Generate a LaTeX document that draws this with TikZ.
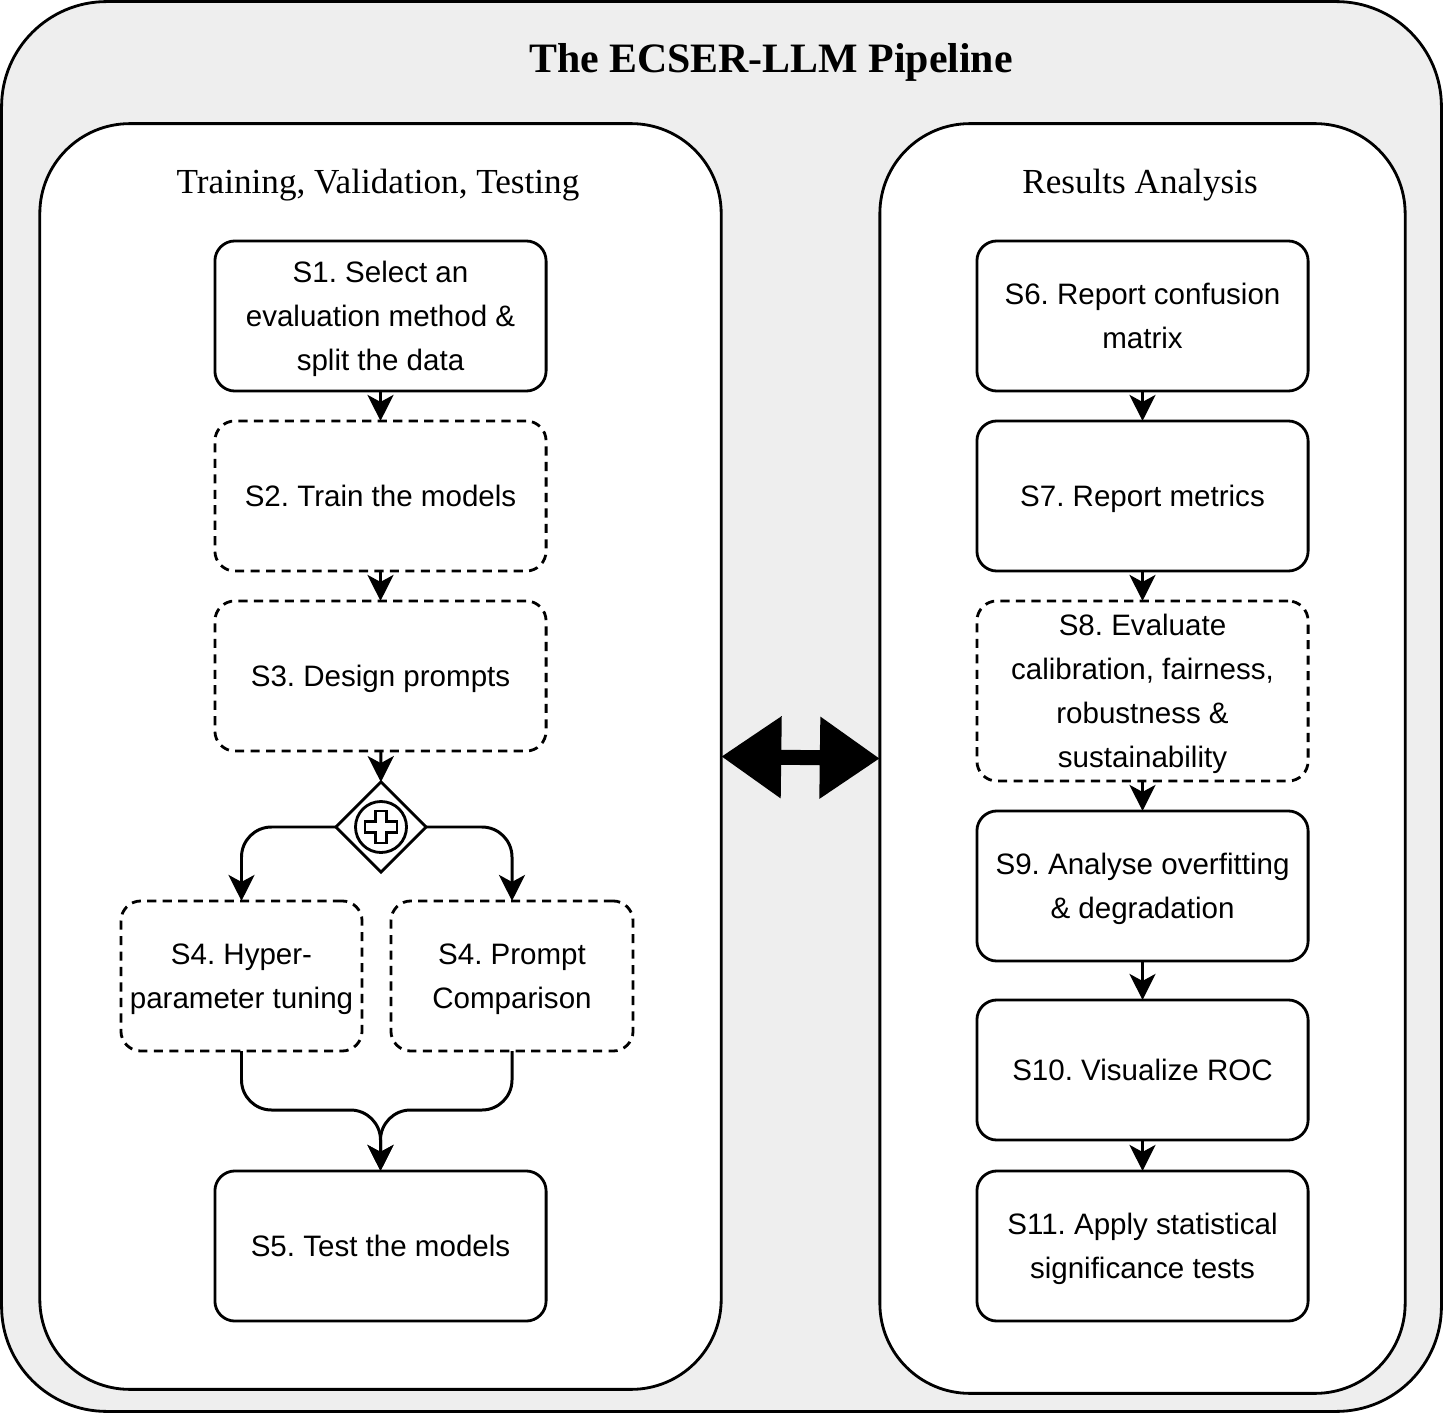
\documentclass[tikz,border=0pt]{standalone}
\usepackage{fontspec}
\setmainfont{Liberation Serif}
\newfontfamily\arialfont{Liberation Sans}
\usetikzlibrary{arrows.meta,shapes.geometric}
\frenchspacing

\definecolor{framegray}{HTML}{EEEEEE}
\newcommand{\boxstrut}{\rule[-2.4pt]{0pt}{11pt}}

\begin{document}
\begin{tikzpicture}[x=0.01cm,y=-0.01cm,
    every node/.style={inner sep=0pt, outer sep=0pt},
    panel/.style={draw, line width=0.8pt, fill=white, rounded corners=0.9cm},
    stepbox/.style={draw, line width=0.8pt, rounded corners=0.2cm, fill=white,
        minimum width=3.31cm, minimum height=1.5cm, align=center,
        font=\arialfont\fontsize{8.4}{12.5}\selectfont,
        execute at begin node=\boxstrut, execute at end node=\boxstrut},
    optbox/.style={stepbox, dash pattern=on 2.6pt off 1.8pt},
    flow/.style={draw, line width=0.85pt, -{Stealth[length=0.26cm, width=0.26cm, inset=0.07cm]}},
    bigarrow/.style={line width=0.15cm,
        {Triangle[length=0.6cm, width=0.78cm]}-{Triangle[length=0.6cm, width=0.78cm]}}]
    \useasboundingbox (0,0) rectangle (1446,1416);

    % outer frame and panels
    \node[draw, line width=0.8pt, fill=framegray, rounded corners=1.05cm,
        minimum width=14.39cm, minimum height=14.09cm] (frame) at (721.5,706.5) {};
    \node[font=\bfseries\fontsize{11.9}{14}\selectfont] (title) at (771,62) {The ECSER-LLM Pipeline};
    \node[panel, minimum width=6.81cm, minimum height=12.65cm] (train) at (380.5,756.5) {};
    \node[panel, minimum width=5.25cm, minimum height=12.69cm] (results) at (1142.5,758.5) {};
    \node[font=\fontsize{10}{12}\selectfont] (traintitle) at (378,185) {Training, Validation, Testing};
    \node[font=\fontsize{10}{12}\selectfont] (restitle) at (1140,185) {Results Analysis};

    % left column
    \node[stepbox] (s1) at (380.5,316) {\boxstrut S1. Select an\\evaluation method \&\\split the data};
    \node[optbox] (s2) at (380.5,496) {S2. Train the models};
    \node[optbox] (s3) at (380.5,676) {S3. Design prompts};
    \node[draw, line width=0.8pt, fill=white, diamond, aspect=1, minimum size=0.9cm] (gw) at (381,827) {};
    \draw[line width=0.8pt] (gw.center) circle (0.255cm);
    \draw[line width=0.8pt] (gw.center) ++(-5.5,-16) -- ++(11,0) -- ++(0,10.5) -- ++(10.5,0)
        -- ++(0,11) -- ++(-10.5,0) -- ++(0,10.5) -- ++(-11,0) -- ++(0,-10.5) -- ++(-10.5,0)
        -- ++(0,-11) -- ++(10.5,0) -- cycle;
    \node[optbox, minimum width=2.41cm] (s4a) at (241.5,976) {\boxstrut S4. Hyper-\\parameter tuning};
    \node[optbox, minimum width=2.42cm] (s4b) at (512,976) {\boxstrut S4. Prompt\\Comparison};
    \node[stepbox] (s5) at (380.5,1246) {S5. Test the models};
    \coordinate (merge) at (380.5,1110);

    \draw[flow] (s1) -- (s2);
    \draw[flow] (s2) -- (s3);
    \draw[flow] (s3) -- (gw);
    \draw[flow, rounded corners=0.3cm] (gw.west) -| (s4a);
    \draw[flow, rounded corners=0.3cm] (gw.east) -| (s4b);
    \draw[flow, rounded corners=0.3cm] (s4a) |- (merge) -- (s5);
    \draw[flow, rounded corners=0.3cm] (s4b) |- (merge) -- (s5);

    % right column
    \node[stepbox] (s6) at (1142.5,316) {\boxstrut S6. Report confusion\\matrix};
    \node[stepbox] (s7) at (1142.5,496) {S7. Report metrics};
    \node[optbox, minimum height=1.8cm] (s8) at (1142.5,691) {\boxstrut S8. Evaluate\\calibration, fairness,\\robustness \&\\sustainability};
    \node[stepbox] (s9) at (1142.5,886) {\boxstrut S9. Analyse overfitting\\\& degradation};
    \node[stepbox, minimum height=1.4cm] (s10) at (1142.5,1070) {S10. Visualize ROC};
    \node[stepbox] (s11) at (1142.5,1246) {\boxstrut S11. Apply statistical\\significance tests};

    \draw[flow] (s6) -- (s7);
    \draw[flow] (s7) -- (s8);
    \draw[flow] (s8) -- (s9);
    \draw[flow] (s9) -- (s10);
    \draw[flow] (s10) -- (s11);

    % link between the two phases
    \draw[bigarrow] (train.east) -- (results.west);
\end{tikzpicture}
\end{document}
